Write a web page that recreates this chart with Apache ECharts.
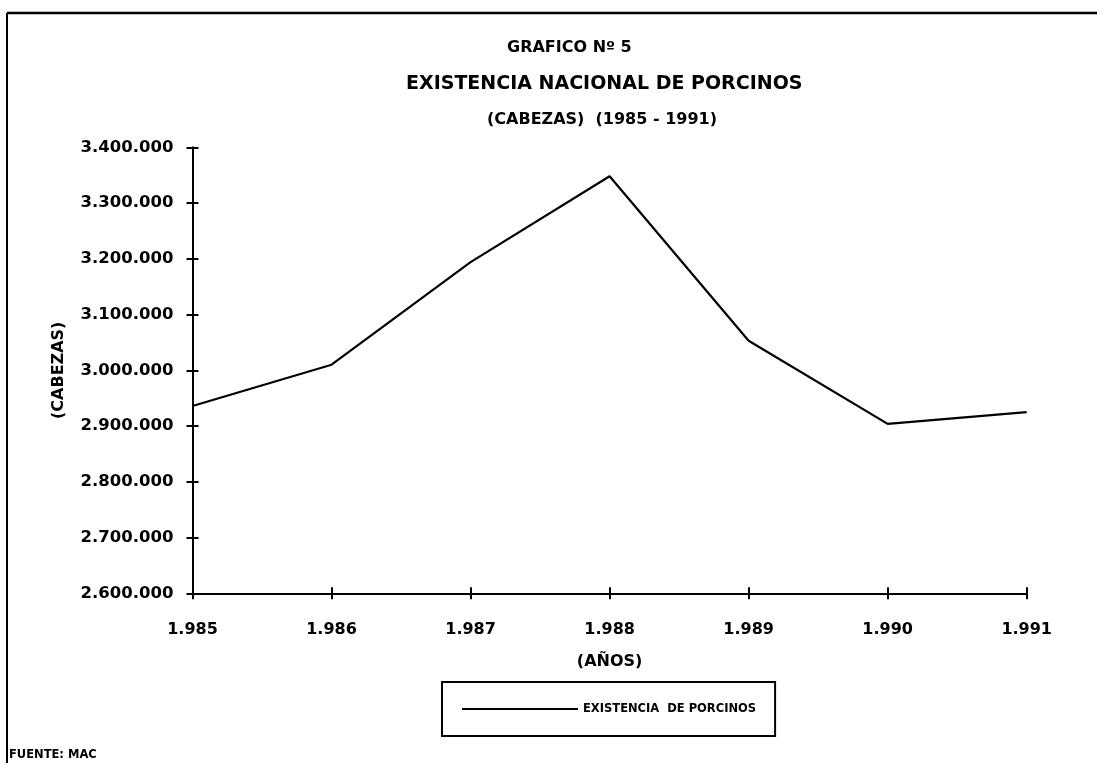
<!DOCTYPE html>
<html>
<head>
<meta charset="utf-8">
<title>Existencia nacional de porcinos</title>
<script src="https://cdn.jsdelivr.net/npm/echarts@6/dist/echarts.min.js"></script>
<style>
  html, body { margin: 0; padding: 0; background: #fff; }
  #chart { width: 1097px; height: 763px; }
</style>
</head>
<body>
<div id="chart"></div>
<script>
// datos
const years = ["1.985", "1.986", "1.987", "1.988", "1.989", "1.990", "1.991"];
const porcinos = [2936000, 3010000, 3194000, 3348000, 3053000, 2904000, 2925000];
const yMin = 2600000;
const yMax = 3400000;
const yStep = 100000;

const FONT = "DejaVu Sans";

// 3400000 -> "3.400.000"
function puntos(v) {
  return String(v).replace(/\B(?=(\d{3})+(?!\d))/g, ".");
}

const chart = echarts.init(document.getElementById("chart"));

chart.setOption({
  backgroundColor: "#fff",
  animation: false,
  textStyle: { fontFamily: FONT, color: "#000" },
  title: [
    {
      text: "GRAFICO Nº 5",
      left: 507, top: 40, padding: 0,
      textStyle: { fontFamily: FONT, fontSize: 16, fontWeight: "bold", color: "#000" },
    },
    {
      text: "EXISTENCIA NACIONAL DE PORCINOS",
      left: 406, top: 75, padding: 0,
      textStyle: { fontFamily: FONT, fontSize: 19, fontWeight: "bold", color: "#000" },
    },
    {
      text: "(CABEZAS)  (1985 - 1991)",
      left: 487, top: 112, padding: 0,
      textStyle: { fontFamily: FONT, fontSize: 16, fontWeight: "bold", color: "#000" },
    },
    {
      text: "FUENTE: MAC",
      left: 9, top: 749, padding: 0,
      textStyle: { fontFamily: FONT, fontSize: 11.5, fontWeight: "bold", color: "#000" },
    },
  ],
  legend: {
    left: 442, top: 682,
    padding: [21, 19, 21, 19],
    borderColor: "#000",
    borderWidth: 2,
    borderRadius: 0,
    itemWidth: 116,
    itemHeight: 14,
    itemGap: 0,
    itemStyle: { opacity: 0 },
    lineStyle: { color: "#000", width: 2 },
    textStyle: { fontFamily: FONT, fontSize: 11.5, fontWeight: "bold", color: "#000", padding: [0, 0, 0, 0] },
    data: ["EXISTENCIA  DE PORCINOS"],
  },
  grid: { left: 192.5, right: 70.3, top: 147.3, bottom: 169.7 },
  xAxis: [
    {
      type: "category",
      data: years,
      boundaryGap: false,
      name: "(AÑOS)",
      nameLocation: "middle",
      nameGap: 61,
      nameTextStyle: { fontFamily: FONT, fontSize: 16, fontWeight: "bold", color: "#000" },
      axisLine: { lineStyle: { color: "#000", width: 2 } },
      axisTick: { show: true, length: 6, lineStyle: { color: "#000", width: 2 } },
      axisLabel: { margin: 29, fontFamily: FONT, fontSize: 16, fontWeight: "bold", color: "#000" },
      splitLine: { show: false },
    },
    {
      // ticks hacia adentro
      type: "category",
      data: years,
      boundaryGap: false,
      position: "bottom",
      axisLine: { show: false },
      axisTick: { show: true, inside: true, length: 6, lineStyle: { color: "#000", width: 2 } },
      axisLabel: { show: false },
      splitLine: { show: false },
    },
  ],
  yAxis: [
    {
      type: "value",
      min: yMin,
      max: yMax,
      interval: yStep,
      name: "(CABEZAS)",
      nameLocation: "middle",
      nameRotate: 90,
      nameGap: 126,
      nameTextStyle: { fontFamily: FONT, fontSize: 16, fontWeight: "bold", color: "#000" },
      axisLine: { show: true, lineStyle: { color: "#000", width: 2 } },
      axisTick: { show: true, length: 6, lineStyle: { color: "#000", width: 2 } },
      axisLabel: {
        margin: 19,
        fontFamily: FONT, fontSize: 16.5, fontWeight: "bold", color: "#000",
        formatter: puntos,
      },
      splitLine: { show: false },
    },
    {
      type: "value",
      min: yMin,
      max: yMax,
      interval: yStep,
      position: "left",
      axisLine: { show: false },
      axisTick: { show: true, inside: true, length: 6, lineStyle: { color: "#000", width: 2 } },
      axisLabel: { show: false },
      splitLine: { show: false },
    },
  ],
  series: [
    {
      name: "EXISTENCIA  DE PORCINOS",
      type: "line",
      data: porcinos,
      symbol: "none",
      lineStyle: { color: "#000", width: 2.2 },
      itemStyle: { color: "#000" },
    },
  ],
  graphic: [
    // marco del documento (arriba e izquierda)
    { type: "line", shape: { x1: 7, y1: 13, x2: 1097, y2: 13 }, style: { stroke: "#000", lineWidth: 2.5 } },
    { type: "line", shape: { x1: 7, y1: 13, x2: 7, y2: 763 }, style: { stroke: "#000", lineWidth: 2 } },
  ],
});
</script>
</body>
</html>
